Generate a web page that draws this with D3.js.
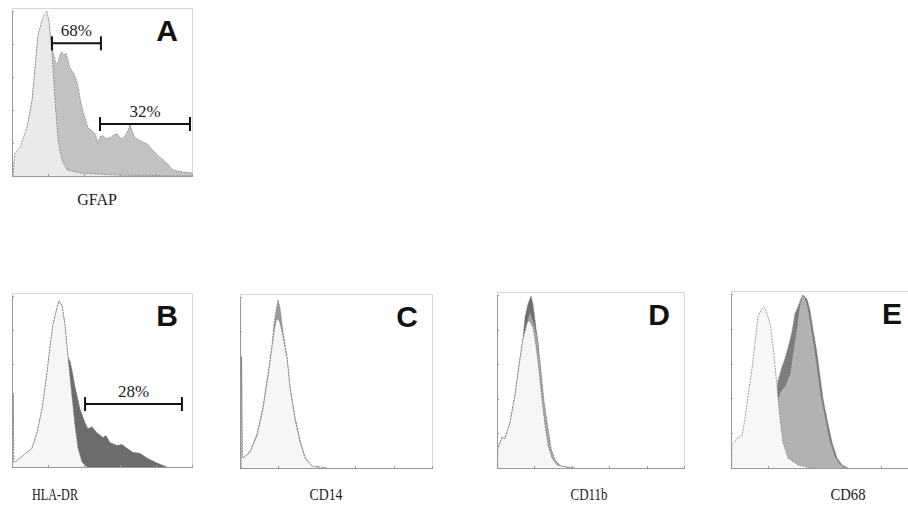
<!DOCTYPE html>
<html>
<head>
<meta charset="utf-8">
<script src="https://cdn.jsdelivr.net/npm/d3@7"></script>
<style>
  body { margin: 0; background: #fff; }
  svg { display: block; }
  .lbl { font-family: "Liberation Serif", "Times New Roman", serif; font-size: 16px; fill: #222; }
  .lbl.narrow { font-size: 17px; }
  .pct { font-family: "Liberation Serif", "Times New Roman", serif; font-size: 17px; fill: #222; }
  .letter { font-family: "Liberation Sans", Arial, sans-serif; font-weight: bold; font-size: 30px; fill: #111; }
  .axis path, .axis line { stroke: #999; shape-rendering: crispEdges; }
</style>
</head>
<body>
<svg id="chart" width="908" height="509"></svg>
<script>
// histogram channels (0-100 of log range) vs relative count (0-100)

// A - GFAP
const ctrlA = [[0.6,0],[1.2,10],[1.7,13.7],[4.4,17.3],[8.3,29.2],[11.1,45.2],[12.8,64.9],[14.4,85.1],[16.7,94.6],[17.8,97.6],[19.4,100],[20.6,92.9],[22.2,75],[23.9,45.2],[25.6,21.4],[27.8,9.5],[30.6,3.6],[37.8,1.8],[60,0.5],[100,0]];
const gfapA = [[0.6,0],[1.2,9],[4.4,15.5],[8.3,28.6],[11.1,45.2],[12.8,64.3],[14.4,83.9],[16.7,94],[18.3,97.6],[20,96.4],[21.1,86.9],[22.8,75],[24.4,67.9],[25.6,69],[26.7,73.8],[27.8,75],[28.9,73.2],[30,74.4],[31.1,70.2],[32.2,65.5],[34.4,61.9],[36.1,57.1],[37.2,51.2],[37.8,47],[39.4,39.3],[41.1,33.3],[42.2,29.2],[44.4,27.4],[46.1,25.6],[47.8,20.2],[48.9,23.8],[50.6,24.4],[52.2,22.6],[54.4,23.2],[56.7,25],[58.3,25.6],[60,23.2],[61.7,22.6],[63.9,26.2],[65.6,31],[66.7,27.4],[68.3,23.2],[71.1,21.4],[75,19.6],[78.3,15.5],[82.2,11.3],[86.1,7.7],[89.4,3.6],[95,2.4],[100,1.8]];
const gatesA = [{lo: 22.2, hi: 49.4, level: 80.4, label: "68%"}, {lo: 48.9, hi: 98.9, level: 31.5, label: "32%"}];

// B - HLA-DR
const ctrlB = [[0.3,0],[0.6,43],[1,3],[1.7,2.9],[4.4,5.2],[11.1,10.9],[13.9,20.1],[16.7,33.9],[19.4,54.6],[21.1,70.1],[22.8,83.3],[25,93.1],[26.1,97.1],[27.8,94.3],[29.4,83.3],[31.1,64.4],[33.3,41.4],[35,24.1],[36.7,10.9],[38.9,2.9],[41.7,0]];
const hlaB = [[0.3,0],[0.6,43],[1,3],[1.7,2.9],[4.4,5.2],[11.1,10.9],[13.9,20.1],[16.7,33.9],[19.4,54.6],[21.1,70.1],[22.8,83.3],[25,93.1],[26.1,97.1],[27.8,94.3],[29.4,83.3],[31.1,64.4],[32.2,62],[33.3,56.9],[35,47.1],[37.8,33.9],[40.6,25.9],[42.2,22.4],[44.4,23.5],[47.2,20.1],[50.6,17.2],[52.2,18.4],[54.4,14.4],[58.3,12.6],[61.1,13.2],[63.9,10.9],[67.2,8.6],[71.1,8],[75,5.2],[80.6,2.3],[86.1,0]];
const gatesB = [{lo: 40.6, hi: 94.4, level: 36.8, label: "28%"}];

// C - CD14
const ctrlC = [[0.6,0],[0.8,65],[1.2,6],[1.6,5.7],[5.2,9.2],[8.9,19],[12,34.5],[14.6,53.4],[16.7,70.7],[17.7,79.3],[18.8,86.2],[19.8,87.4],[20.8,85],[22.4,77],[24.5,63.8],[26,47.1],[28.6,28.7],[31.3,14.9],[33.9,5.7],[37.5,1.1],[45.3,0]];
const cd14C = [[0.6,0],[0.8,65],[1.2,6],[1.6,5.7],[5.2,9.6],[8.9,20],[12,36],[14.6,55],[16.7,72],[17.7,83.9],[18.8,92],[19.8,98.3],[20.8,93.7],[22.4,79.3],[24.5,64.9],[26,48.3],[28.6,29.9],[31.3,16.1],[33.9,6.3],[37.5,1.1],[45.3,0]];

// D - CD11b
const ctrlD = [[0.3,0],[0.5,11.4],[2.7,17.7],[4.3,17.1],[7,26.3],[9.6,41.7],[12.3,62.9],[13.9,74.3],[16,83.4],[17.1,85.7],[19.3,81.1],[20.9,70.3],[22.5,56],[24.1,38.9],[25.7,24.6],[27.3,13.1],[29.4,5.7],[32.1,1.7],[39,0]];
const cd11bHiD = [[0.3,0],[0.5,11.4],[2.7,17.7],[4.3,17.1],[7,26.3],[9.6,41.7],[12.3,62.9],[13.9,74.3],[15,87.4],[16.6,94.9],[18.2,99.4],[19.3,94.3],[20.3,85.7],[21.4,76],[23,58.9],[24.6,40],[26.2,24.6],[27.8,12.6],[29.9,5.1],[32.6,1.1],[39,0]];
const cd11bD = [[0.3,0],[0.5,11.4],[2.7,17.7],[4.3,17.1],[7,26.3],[9.6,41.7],[12.3,62.9],[13.9,74.3],[16,84],[17.6,90.3],[20.3,81.7],[21.9,73.1],[23.5,56],[25.1,38.9],[27.3,22.9],[28.9,11.4],[31,4.6],[34.2,1.1],[41.7,0]];

// E - CD68
const ctrlE = [[0.3,0],[0.5,13.1],[3.2,17],[5.9,18.8],[7.5,28.4],[9.1,41.5],[11.2,56.8],[12.8,71.6],[14.4,86.9],[16.6,91.5],[17.6,92.6],[19.3,88.6],[20.9,83],[22.5,69.9],[24.6,47.2],[26.2,28.4],[27.8,14.8],[30.5,5.7],[35.8,1.7],[43.3,0]];
const cd68HiE = [[16.6,0],[20.9,7.4],[23.5,27.3],[25.1,50],[27.3,58],[28.9,63],[30.5,69],[32.6,78],[34.2,88.6],[35.8,92.6],[37.4,97.2],[38.5,99.4],[40.6,97.2],[42.2,90.9],[43.9,79.5],[46,65.9],[47.6,52.8],[49.2,39.8],[51.3,28.4],[54,14.8],[56.7,5.7],[59.4,1.7],[62.6,0]];
const cd68E = [[16.6,0],[20.9,15.9],[23.5,33],[24.6,37.5],[26.2,43.2],[28.9,47.2],[31.6,54],[33.2,66.5],[35.3,81.3],[36.9,94.3],[38.5,99.4],[39.6,97.7],[41.2,92],[42.8,81.3],[44.9,67],[46.5,54.5],[48.1,41.5],[50.3,29.5],[52.9,15.9],[55.6,6.8],[58.3,2.3],[61.5,0]];

const markers = ["GFAP", "HLA-DR", "CD14", "CD11b", "CD68"];
const letters = ["A", "B", "C", "D", "E"];

// panel frames on the page
const panels = [
  {x0: 12, x1: 192, y0: 8, y1: 176, labelX: 97, labelY: 205, labelW: null,
   series: [{data: gfapA, fill: "#c2c2c2"}, {data: ctrlA, fill: "#eaeaea"}], gates: gatesA},
  {x0: 12, x1: 192, y0: 293, y1: 467, labelX: 55, labelY: 500, labelW: 46,
   series: [{data: hlaB, fill: "#6c6c6c"}, {data: ctrlB, fill: "#f6f6f6"}], gates: gatesB},
  {x0: 240, x1: 432, y0: 294, y1: 468, labelX: 326, labelY: 500, labelW: 33,
   series: [{data: cd14C, fill: "#9a9a9a"}, {data: ctrlC, fill: "#f6f6f6"}], gates: []},
  {x0: 497, x1: 684, y0: 292, y1: 468, labelX: 589, labelY: 500, labelW: 37,
   series: [{data: cd11bHiD, fill: "#6e6e6e"}, {data: cd11bD, fill: "#a6a6a6"}, {data: ctrlD, fill: "#f6f6f6"}], gates: []},
  {x0: 731, x1: 918, y0: 291, y1: 468, labelX: 848, labelY: 500, labelW: 35,
   series: [{data: cd68HiE, fill: "#7d7d7d"}, {data: cd68E, fill: "#b2b2b2"}, {data: ctrlE, fill: "#f7f7f7"}], gates: []}
];

const svg = d3.select("#chart");

panels.forEach(function(p, i) {
  const x = d3.scaleLinear().domain([0, 100]).range([p.x0, p.x1]);
  const y = d3.scaleLinear().domain([0, 100]).range([p.y1, p.y0 + 3]);
  const g = svg.append("g");

  // light frame (top / right)
  g.append("rect")
    .attr("x", p.x0).attr("y", p.y0)
    .attr("width", p.x1 - p.x0).attr("height", p.y1 - p.y0)
    .attr("fill", "none").attr("stroke", "#d6d6d6")
    .attr("shape-rendering", "crispEdges");

  const area = d3.area()
    .x(d => x(d[0]))
    .y0(p.y1)
    .y1(d => y(d[1]));
  const line = d3.line()
    .x(d => x(d[0]))
    .y(d => y(d[1]));

  p.series.forEach(function(s) {
    g.append("path").attr("d", area(s.data)).attr("fill", s.fill);
    g.append("path").attr("d", line(s.data))
      .attr("fill", "none").attr("stroke", "#777")
      .attr("stroke-width", 0.7).attr("stroke-dasharray", "2,1");
  });

  // axes with tiny inward ticks
  g.append("g").attr("class", "axis")
    .attr("transform", "translate(0," + p.y1 + ")")
    .call(d3.axisBottom(x).ticks(7).tickSize(-2).tickSizeOuter(0).tickFormat(""));
  g.append("g").attr("class", "axis")
    .attr("transform", "translate(" + p.x0 + ",0)")
    .call(d3.axisLeft(y).ticks(5).tickSize(-2).tickSizeOuter(0).tickFormat(""));

  // gates
  p.gates.forEach(function(gt) {
    const gy = y(gt.level);
    g.append("line").attr("x1", x(gt.lo)).attr("x2", x(gt.hi))
      .attr("y1", gy).attr("y2", gy).attr("stroke", "#111").attr("stroke-width", 2);
    [gt.lo, gt.hi].forEach(function(v) {
      g.append("line").attr("x1", x(v)).attr("x2", x(v))
        .attr("y1", gy - 7).attr("y2", gy + 7).attr("stroke", "#111").attr("stroke-width", 2);
    });
    g.append("text").attr("class", "pct")
      .attr("x", (x(gt.lo) + x(gt.hi)) / 2).attr("y", gy - 7)
      .attr("text-anchor", "middle").text(gt.label);
  });

  g.append("text").attr("class", "letter")
    .attr("x", Math.min(p.x1 - 14, 902)).attr("y", p.y0 + 33)
    .attr("text-anchor", "end").text(letters[i]);

  const t = svg.append("text").attr("class", p.labelW ? "lbl narrow" : "lbl")
    .attr("x", p.labelX).attr("y", p.labelY)
    .attr("text-anchor", "middle").text(markers[i]);
  if (p.labelW) t.attr("textLength", p.labelW).attr("lengthAdjust", "spacingAndGlyphs");
});
</script>
</body>
</html>
